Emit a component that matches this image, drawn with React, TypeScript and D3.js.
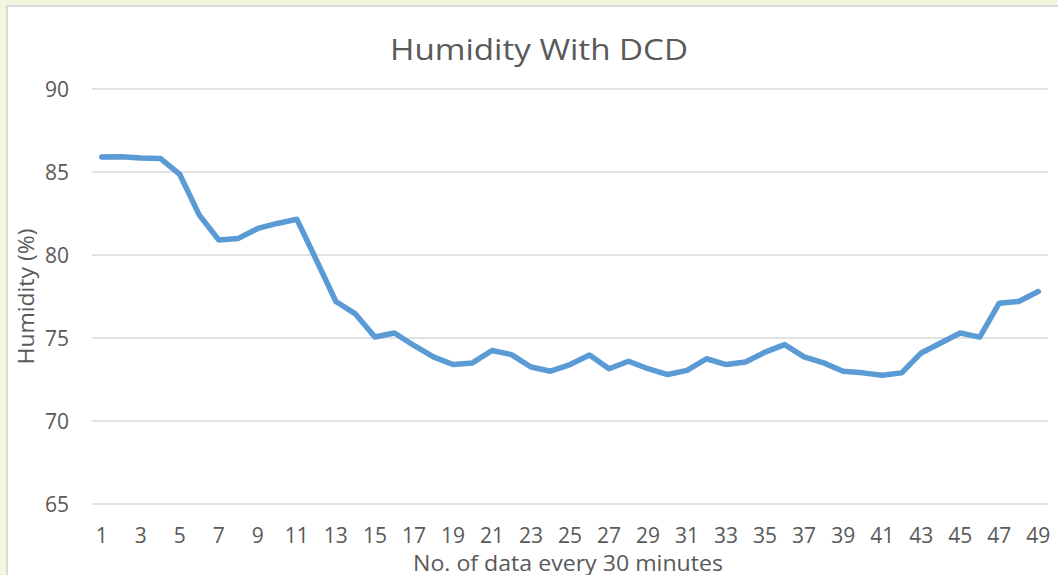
import React from 'react';
import * as d3 from 'd3';

// readings, one every 30 minutes
const samples = d3.range(1, 50);
const humidity = [
  85.9, 85.92, 85.85, 85.82, 84.85, 82.4, 80.9, 81.0, 81.6, 81.9,
  82.15, 79.7, 77.2, 76.45, 75.06, 75.3, 74.55, 73.86, 73.4, 73.5,
  74.25, 74.0, 73.25, 73.0, 73.4, 73.97, 73.15, 73.6, 73.15, 72.8,
  73.05, 73.75, 73.4, 73.55, 74.15, 74.6, 73.86, 73.5, 73.0, 72.9,
  72.75, 72.9, 74.1, 74.7, 75.3, 75.05, 77.1, 77.2, 77.8,
];
const yTicks = [65, 70, 75, 80, 85, 90];
const xTickLabels = samples.filter(d => d % 2 === 1);

const W = 1058, H = 575;
const font = "'Open Sans', 'Noto Sans', sans-serif";
const textColor = '#595959';

export default function App() {
  const x = d3.scaleBand<number>().domain(samples).range([92, 1048]);
  const y = d3.scaleLinear().domain([65, 90]).range([504, 89]);
  const cx = (d: number) => (x(d) as number) + x.bandwidth() / 2;

  const line = d3.line<number>()
    .x((_, i) => cx(samples[i]))
    .y(d => y(d));

  return (
    <svg width={W} height={H} style={{ position: 'absolute', left: 0, top: 0 }} fontFamily={font}>
      <rect x={0} y={0} width={W} height={H} fill="#f2f7e0" />
      <rect x={7} y={6} width={W + 10} height={H + 10} fill="#ffffff" stroke="#d9d9d9" strokeWidth={2} />

      <text x={539} y={60} textAnchor="middle" fontSize={30} fill={textColor}
        textLength={298} lengthAdjust="spacingAndGlyphs">Humidity With DCD</text>

      {yTicks.map(t => (
        <g key={t}>
          <line x1={92} x2={1048} y1={y(t)} y2={y(t)} stroke="#d9d9d9" strokeWidth={1.6} />
          <text x={69} y={y(t)} dy="0.36em" textAnchor="end" fontSize={21} fill={textColor}>{t}</text>
        </g>
      ))}

      {xTickLabels.map(d => (
        <text key={d} x={cx(d)} y={543} textAnchor="middle" fontSize={21} fill={textColor}>{d}</text>
      ))}

      <path d={line(humidity) || ''} fill="none" stroke="#5b9bd5" strokeWidth={5.5}
        strokeLinejoin="round" strokeLinecap="round" />

      <text x={568} y={571} textAnchor="middle" fontSize={21} fill={textColor}
        textLength={310} lengthAdjust="spacingAndGlyphs">No. of data every 30 minutes</text>
      <text transform={`translate(34,${(y(65) + y(90)) / 2}) rotate(-90)`} textAnchor="middle"
        fontSize={22} fill={textColor} textLength={136} lengthAdjust="spacingAndGlyphs">Humidity (%)</text>
    </svg>
  );
}
